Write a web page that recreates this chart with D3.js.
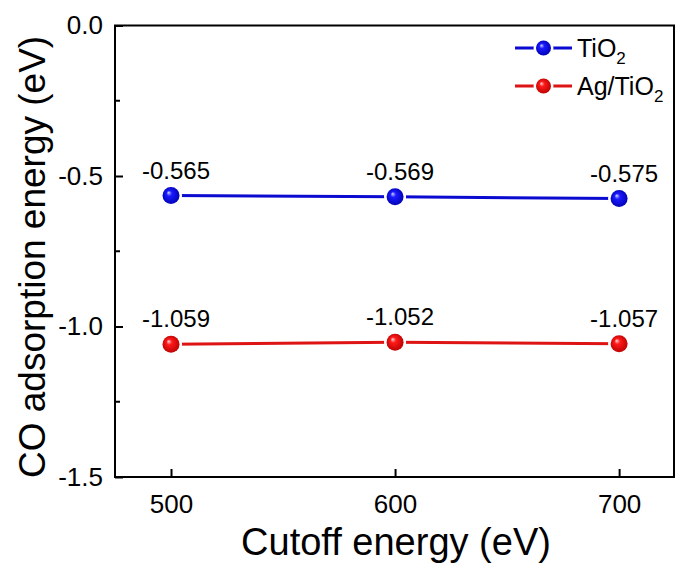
<!DOCTYPE html>
<html>
<head>
<meta charset="utf-8">
<script src="https://cdn.jsdelivr.net/npm/d3@7"></script>
<style>
  body { margin: 0; background: #fff; }
  text { font-family: "Liberation Sans", Arial, sans-serif; fill: #000; }
</style>
</head>
<body>
<div id="main"></div>
<script>
var cutoffs = [500, 600, 700];
var tio2 = [-0.565, -0.569, -0.575];
var agtio2 = [-1.059, -1.052, -1.057];
var yTicks = [0, -0.5, -1.0, -1.5];
var yMinor = [-0.25, -0.75, -1.25];

var W = 676, H = 574;
var margin = { top: 25.5, right: 2, bottom: 97, left: 115 };
var width = W - margin.left - margin.right,
  height = H - margin.top - margin.bottom;

var svg = d3.select('#main')
  .append('svg')
  .attr('width', W)
  .attr('height', H);

var defs = svg.append('defs');
function sphere(id, light, mid, dark) {
  var g = defs.append('radialGradient')
    .attr('id', id)
    .attr('cx', '50%').attr('cy', '50%').attr('r', '55%')
    .attr('fx', '35%').attr('fy', '32%');
  g.append('stop').attr('offset', '0%').attr('stop-color', light);
  g.append('stop').attr('offset', '30%').attr('stop-color', mid);
  g.append('stop').attr('offset', '100%').attr('stop-color', dark);
}
sphere('gBlue', '#d0d0ff', '#1a1aff', '#0000b0');
sphere('gRed', '#ffd6d6', '#ff1a1a', '#b80000');

var g = svg.append('g')
  .attr('transform', 'translate(' + margin.left + ',' + margin.top + ')');

var x = d3.scaleLinear().domain([475, 724.5]).range([0, width]);
var y = d3.scaleLinear().domain([0, -1.5]).range([0, height]);

// frame
g.append('rect')
  .attr('width', width).attr('height', height)
  .attr('fill', 'none').attr('stroke', '#000').attr('stroke-width', 2);

// x axis (inward ticks)
var xAxis = g.append('g')
  .attr('transform', 'translate(0,' + height + ')')
  .call(d3.axisBottom(x).tickValues(cutoffs).tickSizeInner(-8).tickSizeOuter(0).tickPadding(18));
xAxis.select('.domain').remove();
xAxis.selectAll('line').attr('stroke-width', 2);
xAxis.selectAll('text').style('font-size', '26px').attr('dy', '0.71em');

// y axis
var yAxis = g.append('g')
  .call(d3.axisLeft(y).tickValues(yTicks).tickSizeInner(-8).tickSizeOuter(0).tickPadding(12));
yAxis.select('.domain').remove();
yAxis.selectAll('line').attr('stroke-width', 2);
yAxis.selectAll('text').style('font-size', '26px')
  .text(function (d) { return d3.format('.1f')(d).replace('−', '-'); });

g.selectAll('.minor')
  .data(yMinor)
  .enter().append('line')
  .attr('x1', 0).attr('x2', 5)
  .attr('y1', function (d) { return y(d); })
  .attr('y2', function (d) { return y(d); })
  .attr('stroke', '#000').attr('stroke-width', 2);

// axis titles
svg.append('text')
  .attr('x', 396).attr('y', 555)
  .style('text-anchor', 'middle')
  .style('font-size', '38px')
  .text('Cutoff energy (eV)');

svg.append('text')
  .attr('transform', 'translate(45,478) rotate(-90)')
  .style('text-anchor', 'start')
  .style('font-size', '37px')
  .text('CO adsorption energy (eV)');

var series = [
  { name: 'TiO2', values: tio2, line: '#0a0ad0', grad: 'url(#gBlue)' },
  { name: 'Ag/TiO2', values: agtio2, line: '#de1414', grad: 'url(#gRed)' }
];

var line = d3.line()
  .x(function (d, i) { return x(cutoffs[i]); })
  .y(function (d) { return y(d); });

series.forEach(function (s) {
  g.append('path')
    .datum(s.values)
    .attr('d', line)
    .attr('fill', 'none')
    .attr('stroke', s.line)
    .attr('stroke-width', 3);

  g.selectAll(null)
    .data(s.values)
    .enter().append('circle')
    .attr('cx', function (d, i) { return x(cutoffs[i]); })
    .attr('cy', function (d) { return y(d); })
    .attr('r', 11)
    .attr('fill', '#fff');

  g.selectAll(null)
    .data(s.values)
    .enter().append('circle')
    .attr('cx', function (d, i) { return x(cutoffs[i]); })
    .attr('cy', function (d) { return y(d); })
    .attr('r', 8.5)
    .attr('fill', s.grad);

  g.selectAll(null)
    .data(s.values)
    .enter().append('text')
    .attr('x', function (d, i) { return x(cutoffs[i]) + 5; })
    .attr('y', function (d) { return y(d) - 17; })
    .style('text-anchor', 'middle')
    .style('font-size', '24px')
    .text(function (d) { return d3.format('.3f')(d).replace('−', '-'); });
});

// legend
var legend = svg.selectAll('.legend')
  .data(series)
  .enter().append('g')
  .attr('class', 'legend')
  .attr('transform', function (d, i) { return 'translate(0,' + (48 + i * 38) + ')'; });

legend.append('line')
  .attr('x1', 515).attr('x2', 572)
  .attr('stroke', function (d) { return d.line; })
  .attr('stroke-width', 3);
legend.append('circle')
  .attr('cx', 543.5).attr('r', 10).attr('fill', '#fff');
legend.append('circle')
  .attr('cx', 543.5).attr('r', 7.5)
  .attr('fill', function (d) { return d.grad; });

var lt = legend.append('text')
  .attr('x', 577).attr('y', 9)
  .style('font-size', '25px');
lt.append('tspan').text(function (d) { return d.name.replace('2', ''); });
lt.append('tspan').attr('dy', 7).style('font-size', '17px').text('2');
</script>
</body>
</html>
